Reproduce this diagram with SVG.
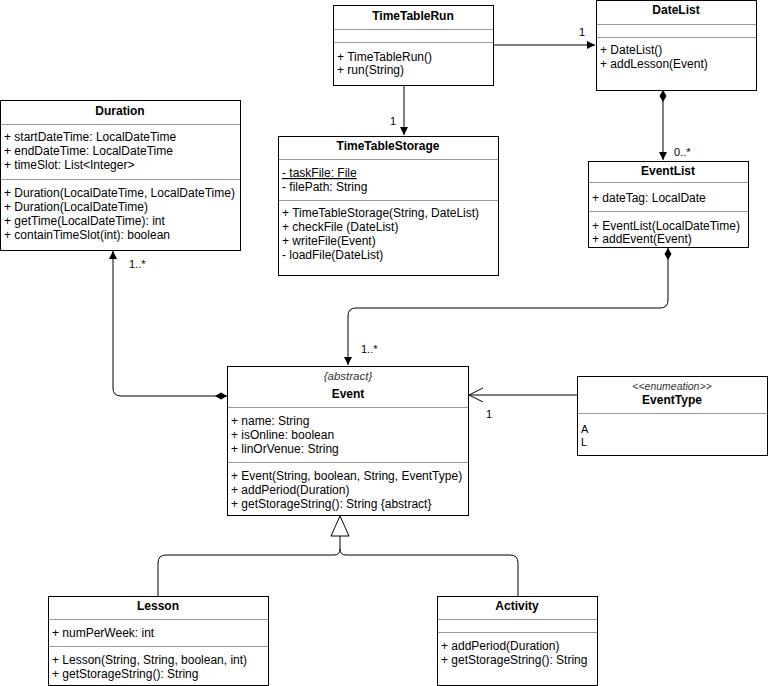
<svg xmlns="http://www.w3.org/2000/svg" width="768" height="686" viewBox="0 0 768 686">
<style>
text{font-family:"Liberation Sans",Arial,Helvetica,sans-serif;font-size:12px;fill:#000}
.t{font-weight:bold;font-size:12px;text-anchor:middle}
.it{font-style:italic;font-size:11.5px;text-anchor:middle;fill:#333}
.lb{font-size:11px}
.box{fill:#fff;stroke:#000;stroke-width:1}
.div{stroke:#999;stroke-width:1}
.con{fill:none;stroke:#000;stroke-width:1}
</style>
<defs>
<marker id="arr" markerUnits="userSpaceOnUse" markerWidth="10" markerHeight="10" refX="8" refY="4" orient="auto"><path d="M0,0 L8,4 L0,8 Z" fill="#000"/></marker>
<marker id="dia" markerUnits="userSpaceOnUse" markerWidth="14" markerHeight="10" refX="0" refY="4" orient="auto"><path d="M0,4 L6,0.5 L12,4 L6,7.5 Z" fill="#000"/></marker>
<marker id="open" markerUnits="userSpaceOnUse" markerWidth="16" markerHeight="16" refX="14" refY="7" orient="auto"><path d="M0,0 L14,7 L0,14" fill="none" stroke="#000"/></marker>
</defs>
<g id="connectors">
<path class="con" d="M404,85 V135" marker-end="url(#arr)"/>
<path class="con" d="M493,45 H595" marker-end="url(#arr)"/>
<path class="con" d="M663,90 V160" marker-start="url(#dia)" marker-end="url(#arr)"/>
<path class="con" d="M668,248 V300 Q668,308 660,308 H356 Q348,308 348,316 V365" marker-start="url(#dia)" marker-end="url(#arr)"/>
<path class="con" d="M227,396 H121 Q113,396 113,388 V251" marker-start="url(#dia)" marker-end="url(#arr)"/>
<path class="con" d="M577,395 H469" marker-end="url(#open)"/>
<path class="con" d="M158,596 V563 Q158,555 166,555 H334 Q340,555 340,549 V536"/>
<path class="con" d="M518,596 V563 Q518,555 510,555 H346 Q340,555 340,549"/>
<polygon points="340,516 331,536 349,536" fill="#fff" stroke="#000"/>
<text class="lb" x="579" y="36">1</text>
<text class="lb" x="390" y="125">1</text>
<text class="lb" x="674" y="156">0..*</text>
<text class="lb" x="361" y="353">1..*</text>
<text class="lb" x="129" y="268">1..*</text>
<text class="lb" x="486" y="418">1</text>
</g>
<g id="TimeTableRun">
<rect class="box" x="333.5" y="5.5" width="160" height="80"/>
<text class="t" x="413" y="20">TimeTableRun</text>
<line class="div" x1="334" y1="29.5" x2="493" y2="29.5"/>
<line class="div" x1="334" y1="42.5" x2="493" y2="42.5"/>
<text x="337" y="61">+ TimeTableRun()</text>
<text x="337" y="74">+ run(String)</text>
</g>
<g id="DateList">
<rect class="box" x="596.5" y="0.5" width="160" height="90"/>
<text class="t" x="676" y="14">DateList</text>
<line class="div" x1="597" y1="24.5" x2="756" y2="24.5"/>
<line class="div" x1="597" y1="37.5" x2="756" y2="37.5"/>
<text x="600" y="54">+ DateList()</text>
<text x="600" y="68">+ addLesson(Event)</text>
</g>
<g id="Duration">
<rect class="box" x="0.5" y="100.5" width="240" height="150"/>
<text class="t" x="120" y="115">Duration</text>
<line class="div" x1="1" y1="124.5" x2="240" y2="124.5"/>
<text x="4" y="141">+ startDateTime: LocalDateTime</text>
<text x="4" y="155">+ endDateTime: LocalDateTime</text>
<text x="4" y="169">+ timeSlot: List&lt;Integer&gt;</text>
<line class="div" x1="1" y1="179.5" x2="240" y2="179.5"/>
<text x="4" y="197">+ Duration(LocalDateTime, LocalDateTime)</text>
<text x="4" y="211">+ Duration(LocalDateTime)</text>
<text x="4" y="225">+ getTime(LocalDateTime): int</text>
<text x="4" y="239">+ containTimeSlot(int): boolean</text>
</g>
<g id="TimeTableStorage">
<rect class="box" x="278.5" y="136.5" width="220" height="139"/>
<text class="t" x="388" y="150">TimeTableStorage</text>
<line class="div" x1="279" y1="159.5" x2="498" y2="159.5"/>
<text x="282" y="177" text-decoration="underline">- taskFile: File</text>
<text x="282" y="191">- filePath: String</text>
<line class="div" x1="279" y1="200.5" x2="498" y2="200.5"/>
<text x="282" y="217">+ TimeTableStorage(String, DateList)</text>
<text x="282" y="231">+ checkFile (DateList)</text>
<text x="282" y="245">+ writeFile(Event)</text>
<text x="282" y="259">- loadFile(DateList)</text>
</g>
<g id="EventList">
<rect class="box" x="588.5" y="161.5" width="160" height="86"/>
<text class="t" x="668" y="175">EventList</text>
<line class="div" x1="589" y1="182.5" x2="748" y2="182.5"/>
<text x="592" y="202">+ dateTag: LocalDate</text>
<line class="div" x1="589" y1="211.5" x2="748" y2="211.5"/>
<text x="592" y="230">+ EventList(LocalDateTime)</text>
<text x="592" y="243">+ addEvent(Event)</text>
</g>
<g id="Event">
<rect class="box" x="227.5" y="366.5" width="241" height="149"/>
<text class="it" x="348" y="380">{abstract}</text>
<text class="t" x="348" y="398">Event</text>
<line class="div" x1="228" y1="407.5" x2="468" y2="407.5"/>
<text x="231" y="425">+ name: String</text>
<text x="231" y="439">+ isOnline: boolean</text>
<text x="231" y="453">+ linOrVenue: String</text>
<line class="div" x1="228" y1="462.5" x2="468" y2="462.5"/>
<text x="231" y="480">+ Event(String, boolean, String, EventType)</text>
<text x="231" y="494">+ addPeriod(Duration)</text>
<text x="231" y="508">+ getStorageString(): String {abstract}</text>
</g>
<g id="EventType">
<rect class="box" x="577.5" y="376.5" width="190" height="79"/>
<text class="it" x="672" y="390" style="font-size:10.5px">&lt;&lt;enumeation&gt;&gt;</text>
<text class="t" x="672" y="404">EventType</text>
<line class="div" x1="578" y1="413.5" x2="767" y2="413.5"/>
<text x="581" y="433" style="font-size:11px">A</text>
<text x="581" y="446" style="font-size:11px">L</text>
</g>
<g id="Lesson">
<rect class="box" x="48.5" y="596.5" width="220" height="89"/>
<text class="t" x="158" y="610">Lesson</text>
<line class="div" x1="49" y1="619.5" x2="268" y2="619.5"/>
<text x="52" y="637">+ numPerWeek: int</text>
<line class="div" x1="49" y1="646.5" x2="268" y2="646.5"/>
<text x="52" y="664">+ Lesson(String, String, boolean, int)</text>
<text x="52" y="678">+ getStorageString(): String</text>
</g>
<g id="Activity">
<rect class="box" x="437.5" y="596.5" width="160" height="89"/>
<text class="t" x="517" y="610">Activity</text>
<line class="div" x1="438" y1="619.5" x2="597" y2="619.5"/>
<line class="div" x1="438" y1="632.5" x2="597" y2="632.5"/>
<text x="441" y="650">+ addPeriod(Duration)</text>
<text x="441" y="664">+ getStorageString(): String</text>
</g>
</svg>
